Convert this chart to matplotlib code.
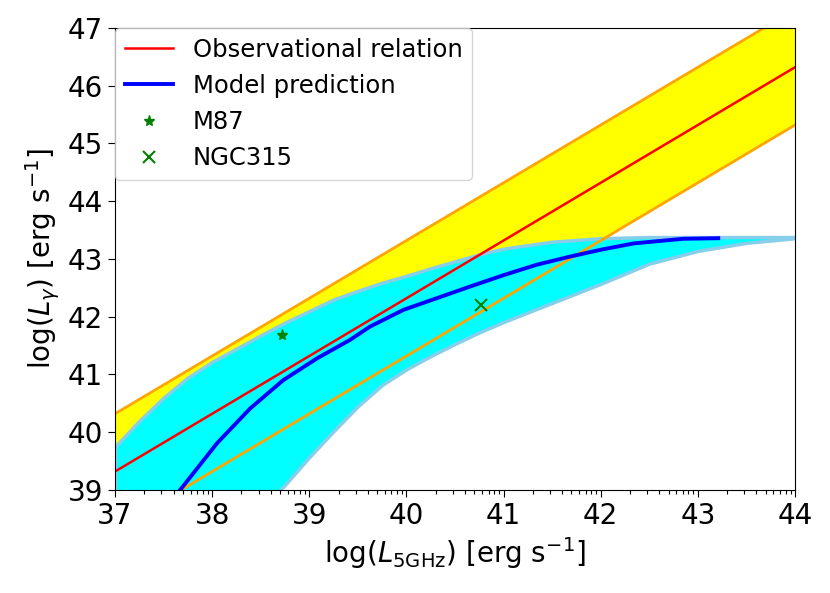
import numpy as np
import matplotlib
matplotlib.use("Agg")
import matplotlib.pyplot as plt


# data ------------------------------------------------------------------
# observational relation: straight line with a +-1 dex scatter band
obs_x = [37.0, 44.0]
obs_y = [39.32, 46.32]
obs_scatter = 1.0

# model band (common x grid)
band_x = [37.0, 37.25, 37.5, 37.75, 38.0, 38.25, 38.5, 38.75, 39.0, 39.25,
          39.5, 39.75, 40.0, 40.25, 40.5, 40.75, 41.0, 41.5, 42.0, 42.5,
          43.0, 43.5, 44.0]
band_hi = [39.75, 40.2, 40.6, 40.95, 41.22, 41.45, 41.68, 41.9, 42.1, 42.3,
           42.45, 42.59, 42.71, 42.84, 42.96, 43.08, 43.18, 43.3, 43.36, 43.38,
           43.38, 43.38, 43.38]
band_lo = [36.0, 36.5, 37.0, 37.45, 37.85, 38.25, 38.65, 39.09, 39.57, 40.02,
           40.45, 40.82, 41.09, 41.32, 41.53, 41.73, 41.91, 42.24, 42.57, 42.92,
           43.14, 43.28, 43.36]

# model prediction
model_x = [37.5, 37.67, 38.05, 38.39, 38.73, 39.08, 39.42, 39.625, 39.97, 40.31,
           40.65, 41.0, 41.34, 41.68, 42.0, 42.34, 42.85, 43.21]
model_y = [38.7, 39.0, 39.81, 40.41, 40.9, 41.28, 41.6, 41.83, 42.12, 42.32,
           42.52, 42.72, 42.9, 43.04, 43.16, 43.27, 43.35, 43.36]

# sources
m87 = (38.72, 41.69)
ngc315 = (40.77, 42.2)


# plot -------------------------------------------------------------------
fig = plt.figure(figsize=(8.3, 5.93), dpi=100)
ax = fig.add_axes([0.1386, 0.1737, 0.8192, 0.7791])

obs_x = np.array(obs_x)
obs_y = np.array(obs_y)
ax.fill_between(obs_x, obs_y - obs_scatter, obs_y + obs_scatter, color="yellow", lw=0)
ax.fill_between(band_x, band_lo, band_hi, facecolor="cyan", edgecolor="skyblue", lw=2.5)
ax.plot(obs_x, obs_y + obs_scatter, color="orange", lw=2)
ax.plot(obs_x, obs_y - obs_scatter, color="orange", lw=2)
ax.plot(obs_x, obs_y, color="red", lw=1.8, label="Observational relation")
ax.plot(model_x, model_y, color="blue", lw=2.8, label="Model prediction")
ax.plot(m87[0], m87[1], "*", color="green", ms=8, ls="none", label="M87")
ax.plot(ngc315[0], ngc315[1], "x", color="green", ms=8, mew=1.5, ls="none", label="NGC315")

ax.set_xlim(37, 44)
ax.set_ylim(39, 47)
ax.set_xticks(range(37, 45))
ax.set_yticks(range(39, 48))
# log-like minor ticks inside each unit
minor = [i + np.log10(k) for i in range(37, 44) for k in range(2, 10)]
ax.set_xticks(minor, minor=True)
ax.tick_params(axis="both", which="major", labelsize=20, length=5)
ax.tick_params(axis="x", which="minor", length=3, width=0.8)

ax.set_xlabel(r"log($L_{\rm 5GHz}$) [erg s$^{-1}$]", fontsize=20)
ax.set_ylabel(r"log($L_\gamma$) [erg s$^{-1}$]", fontsize=20)
ax.legend(loc="upper left", fontsize=17.5, borderaxespad=0)

fig.savefig("out.png", dpi=100)
